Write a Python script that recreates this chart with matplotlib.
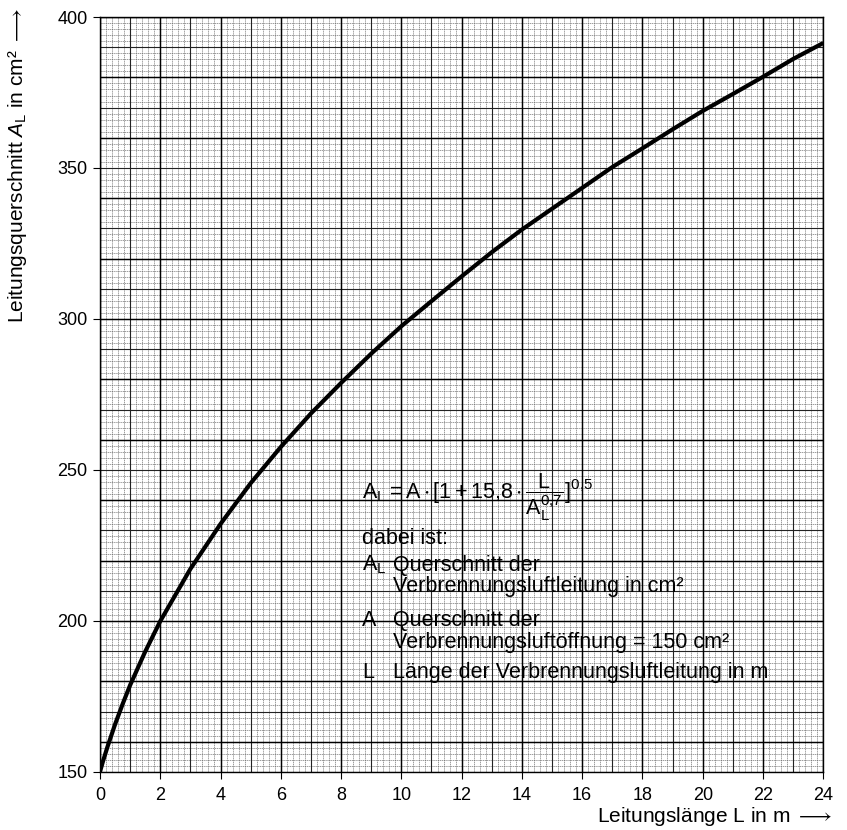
import numpy as np
import matplotlib
matplotlib.use("Agg")
import matplotlib.pyplot as plt

plt.rcParams['font.family'] = ['Liberation Sans', 'DejaVu Sans']
plt.rcParams['mathtext.fontset'] = 'custom'
plt.rcParams['mathtext.rm'] = 'Liberation Sans'
plt.rcParams['mathtext.it'] = 'Liberation Sans:italic'
plt.rcParams['mathtext.fallback'] = 'stixsans'

laenge = [0, 0.1, 0.25, 0.5, 0.75, 1, 1.5, 2, 3, 4, 5, 6, 7, 8, 9, 10, 11, 12,
          13, 14, 15, 16, 17, 18, 19, 20, 21, 22, 23, 24]
querschnitt = [150, 153.5, 158.3, 165.7, 172.4, 178.7, 189.8, 199.9, 217.2,
               232.1, 245.6, 257.6, 268.7, 278.8, 288.5, 297.6, 305.9, 314.1,
               322.1, 329.6, 336.5, 343.4, 350.3, 356.5, 362.8, 368.9, 374.5,
               380.2, 386.1, 391.4]

x_ticks = list(range(0, 25, 2))
y_ticks = [150, 200, 250, 300, 350, 400]

fig = plt.figure(figsize=(8.47, 8.3), dpi=100)
ax = fig.add_axes([0.118, 0.070, 0.854, 0.9095])

ax.set_xlim(0, 24)
ax.set_ylim(150, 400)

# Millimeterpapier
for xv in np.arange(0, 24.01, 0.2):
    ax.axvline(xv, color='#666666', lw=0.45, ls=(0, (2, 1)), zorder=1)
for yv in np.arange(150, 400.01, 2):
    ax.axhline(yv, color='#666666', lw=0.45, ls=(0, (2, 1)), zorder=1)
for xv in range(0, 25):
    ax.axvline(xv, color='#222222', lw=0.8, zorder=1)
for yv in range(150, 401, 10):
    ax.axhline(yv, color='#222222', lw=0.8, zorder=1)
for xv in range(0, 25, 2):
    ax.axvline(xv, color='black', lw=1.0, zorder=1)
for yv in range(160, 401, 20):
    ax.axhline(yv, color='black', lw=1.0, zorder=1)

ax.plot(laenge, querschnitt, color='black', lw=3.0, zorder=3,
        solid_capstyle='butt')

ax.set_xticks(x_ticks)
ax.set_yticks(y_ticks)
ax.tick_params(direction='out', length=5, width=0.8, labelsize=13)
ax.tick_params(axis='x', pad=6)
ax.tick_params(axis='y', pad=4)
for s in ax.spines.values():
    s.set_linewidth(1.0)

fig.text(0.021, 0.99,
         r'Leitungsquerschnitt $\mathit{A}_\mathrm{L}$ in cm² $\longrightarrow$',
         rotation=90, ha='center', va='top', fontsize=15)
fig.text(0.983, 0.0096, r'Leitungslänge L in m $\longrightarrow$', ha='right',
         va='baseline', fontsize=15)

tx = 0.362
tx2 = 0.405
fs = 15.5
ax.text(tx, 0.362,
        r'$\mathrm{A_L = A \cdot [1 + 15{,}8 \cdot \dfrac{L}{A_L^{0{,}7}}]^{0{,}5}}$',
        transform=ax.transAxes, fontsize=fs, va='baseline', zorder=4)
ax.text(tx, 0.309, 'dabei ist:', transform=ax.transAxes, fontsize=fs,
        va='center', zorder=4)
ax.text(tx, 0.274, r'$\mathrm{A_L}$', transform=ax.transAxes, fontsize=fs,
        va='center', zorder=4)
ax.text(tx2, 0.274, 'Querschnitt der', transform=ax.transAxes, fontsize=fs,
        va='center', zorder=4)
ax.text(tx2, 0.245, 'Verbrennungsluftleitung in cm²', transform=ax.transAxes,
        fontsize=fs, va='center', zorder=4)
ax.text(tx, 0.201, 'A', transform=ax.transAxes, fontsize=fs, va='center',
        zorder=4)
ax.text(tx2, 0.201, 'Querschnitt der', transform=ax.transAxes, fontsize=fs,
        va='center', zorder=4)
ax.text(tx2, 0.172, 'Verbrennungsluftöffnung = 150 cm²',
        transform=ax.transAxes, fontsize=fs, va='center', zorder=4)
ax.text(tx, 0.132, 'L', transform=ax.transAxes, fontsize=fs, va='center',
        zorder=4)
ax.text(tx2, 0.132, 'Länge der Verbrennungsluftleitung in m',
        transform=ax.transAxes, fontsize=fs, va='center', zorder=4)

fig.savefig('out.png', dpi=100)
